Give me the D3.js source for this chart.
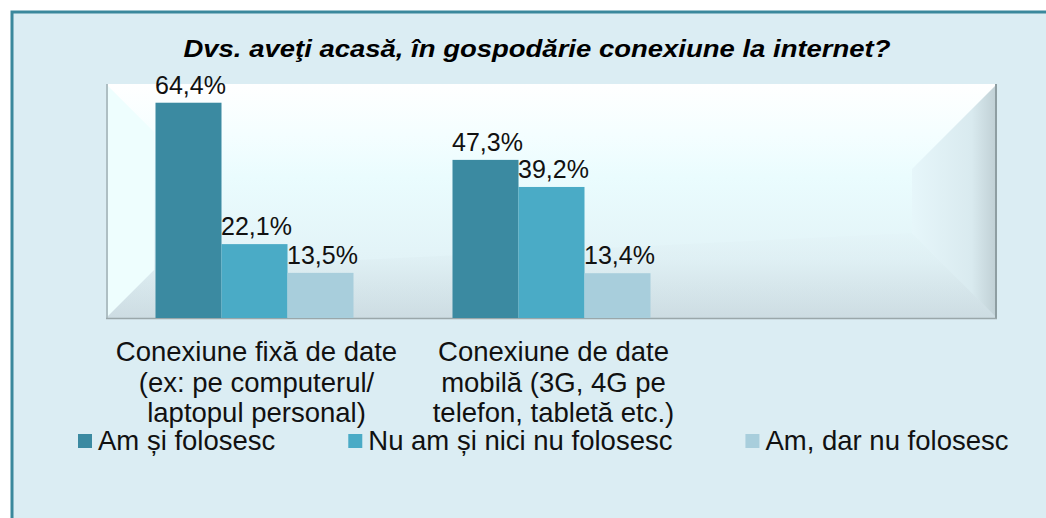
<!DOCTYPE html>
<html>
<head>
<meta charset="utf-8">
<script src="https://cdn.jsdelivr.net/npm/d3@7"></script>
<style>
  html, body { margin: 0; padding: 0; background: #ffffff; }
  svg { display: block; font-family: "Liberation Sans", Arial, sans-serif; }
</style>
</head>
<body>
<script>
// chart data
var title = "Dvs. aveţi acasă, în gospodărie conexiune la internet?";
var categories = ["fixa", "mobila", "gol"];
var categoryLines = [
    ["Conexiune fixă de date", "(ex: pe computerul/", "laptopul personal)"],
    ["Conexiune de date", "mobilă (3G, 4G pe", "telefon, tabletă etc.)"],
    []
];
var seriesNames = ["Am și folosesc", "Nu am și nici nu folosesc", "Am, dar nu folosesc"];
var amSiFolosesc = [64.4, 47.3];
var nuAmNiciNuFolosesc = [22.1, 39.2];
var amDarNuFolosesc = [13.5, 13.4];
var seriesColors = ["#3b8aa1", "#4aabc6", "#a8cedc"];

var W = 1046, H = 518;
var plot = {x0: 106, x1: 997, y0: 84, y1: 318};

var svg = d3.select("body").append("svg")
    .attr("width", W)
    .attr("height", H);

var defs = svg.append("defs");

// outer chart area with teal border (right/bottom edges run off the picture)
svg.append("rect")
    .attr("x", 12).attr("y", 12)
    .attr("width", W + 20).attr("height", H + 20)
    .attr("fill", "#dbedf3")
    .attr("stroke", "#3a889c")
    .attr("stroke-width", 3);

// title, a bit wide like the original
svg.append("text")
    .attr("transform", "translate(537,57) scale(1.17,1)")
    .attr("text-anchor", "middle")
    .style("font-size", "23.5px")
    .style("font-weight", "bold")
    .style("font-style", "italic")
    .style("fill", "#000")
    .text(title);

/* bevelled plot area */
var gBase = defs.append("linearGradient").attr("id", "gBase")
    .attr("x1", 0).attr("y1", 0).attr("x2", 0).attr("y2", 1);
gBase.append("stop").attr("offset", "0%").attr("stop-color", "#ffffff");
gBase.append("stop").attr("offset", "22%").attr("stop-color", "#f4feff");
gBase.append("stop").attr("offset", "40%").attr("stop-color", "#eafcfe");
gBase.append("stop").attr("offset", "75%").attr("stop-color", "#e2f3f7");
gBase.append("stop").attr("offset", "100%").attr("stop-color", "#cfdee4");

var gRight = defs.append("linearGradient").attr("id", "gRight")
    .attr("x1", 0).attr("y1", 0).attr("x2", 1).attr("y2", 0);
gRight.append("stop").attr("offset", "0%").attr("stop-color", "#e6f6fa");
gRight.append("stop").attr("offset", "70%").attr("stop-color", "#d9eaef");
gRight.append("stop").attr("offset", "100%").attr("stop-color", "#bfcfd4");

var gBottom = defs.append("linearGradient").attr("id", "gBottom")
    .attr("x1", 0).attr("y1", 0).attr("x2", 0).attr("y2", 1);
gBottom.append("stop").attr("offset", "0%").attr("stop-color", "#e3f3f7");
gBottom.append("stop").attr("offset", "100%").attr("stop-color", "#cadae0");

var frame = svg.append("g");
frame.append("rect")
    .attr("x", plot.x0).attr("y", plot.y0)
    .attr("width", plot.x1 - plot.x0).attr("height", plot.y1 - plot.y0)
    .attr("fill", "url(#gBase)");

var inner = {l: 154, r: 912, tl: 132, tr: 169, bl: 270, br: 233};
// bottom panel
frame.append("polygon")
    .attr("points", [[plot.x0, plot.y1], [inner.l, inner.bl], [inner.r, inner.br], [plot.x1, plot.y1]].join(" "))
    .attr("fill", "url(#gBottom)")
    .attr("opacity", 0.45);
// left panel
frame.append("polygon")
    .attr("points", [[plot.x0, plot.y0], [inner.l, inner.tl], [inner.l, inner.bl], [plot.x0, plot.y1]].join(" "))
    .attr("fill", "#eefefe");
// right panel
frame.append("polygon")
    .attr("points", [[plot.x1, plot.y0], [inner.r, inner.tr], [inner.r, inner.br], [plot.x1, plot.y1]].join(" "))
    .attr("fill", "url(#gRight)");
// edges
frame.append("line")
    .attr("x1", plot.x0 + 1).attr("x2", plot.x0 + 1)
    .attr("y1", plot.y0).attr("y2", plot.y1)
    .attr("stroke", "#aebfc3").attr("stroke-width", 2);
frame.append("line")
    .attr("x1", plot.x1 - 1).attr("x2", plot.x1 - 1)
    .attr("y1", plot.y0).attr("y2", plot.y1)
    .attr("stroke", "#8e9ea2").attr("stroke-width", 2);
frame.append("line")
    .attr("x1", plot.x0).attr("x2", plot.x1)
    .attr("y1", plot.y1 + 0.5).attr("y2", plot.y1 + 0.5)
    .attr("stroke", "#9aa7aa").attr("stroke-width", 1.5);

// scales
var x = d3.scaleBand()
    .domain(categories)
    .range([plot.x0, plot.x1]);

var xInner = d3.scaleBand()
    .domain(seriesNames)
    .range([0, x.bandwidth()])
    .paddingOuter(0.75);

var y = d3.scaleLinear()
    .domain([0, 70])
    .range([plot.y1, plot.y0]);

var allSeries = [amSiFolosesc, nuAmNiciNuFolosesc, amDarNuFolosesc];
var bars = [];
allSeries.forEach(function(vals, s) {
    vals.forEach(function(v, c) {
        bars.push({cat: categories[c], name: seriesNames[s], value: v, color: seriesColors[s]});
    });
});

var gBars = svg.append("g");
gBars.selectAll("rect")
    .data(bars)
    .enter()
    .append("rect")
    .attr("x", function(d) { return x(d.cat) + xInner(d.name); })
    .attr("y", function(d) { return y(d.value); })
    .attr("width", xInner.bandwidth())
    .attr("height", function(d) { return y(0) - y(d.value); })
    .attr("fill", function(d) { return d.color; });

// value labels
gBars.selectAll("text")
    .data(bars)
    .enter()
    .append("text")
    .attr("x", function(d) { return x(d.cat) + xInner(d.name) + xInner.bandwidth() / 2 + 2; })
    .attr("y", function(d) { return y(d.value) - 9; })
    .attr("text-anchor", "middle")
    .style("font-size", "25px")
    .style("fill", "#111")
    .text(function(d) { return d3.format(".1f")(d.value).replace(".", ",") + "%"; });

// category labels
var gCats = svg.append("g");
categories.forEach(function(c, i) {
    var t = gCats.append("text")
        .attr("text-anchor", "middle")
        .style("font-size", "27.5px")
        .style("fill", "#111");
    categoryLines[i].forEach(function(line, k) {
        t.append("tspan")
            .attr("x", x(c) + x.bandwidth() / 2 + 2)
            .attr("y", 361 + k * 30.5)
            .text(line);
    });
});

// legend
var legend = svg.append("g");
var lx = 78;
seriesNames.forEach(function(name, i) {
    legend.append("rect")
        .attr("x", lx).attr("y", 434)
        .attr("width", 14).attr("height", 14)
        .attr("fill", seriesColors[i]);
    var t = legend.append("text")
        .attr("x", lx + 20).attr("y", 450)
        .style("font-size", "27.5px")
        .style("fill", "#111")
        .text(name);
    lx += 20 + t.node().getComputedTextLength() + 73;
});
</script>
</body>
</html>
